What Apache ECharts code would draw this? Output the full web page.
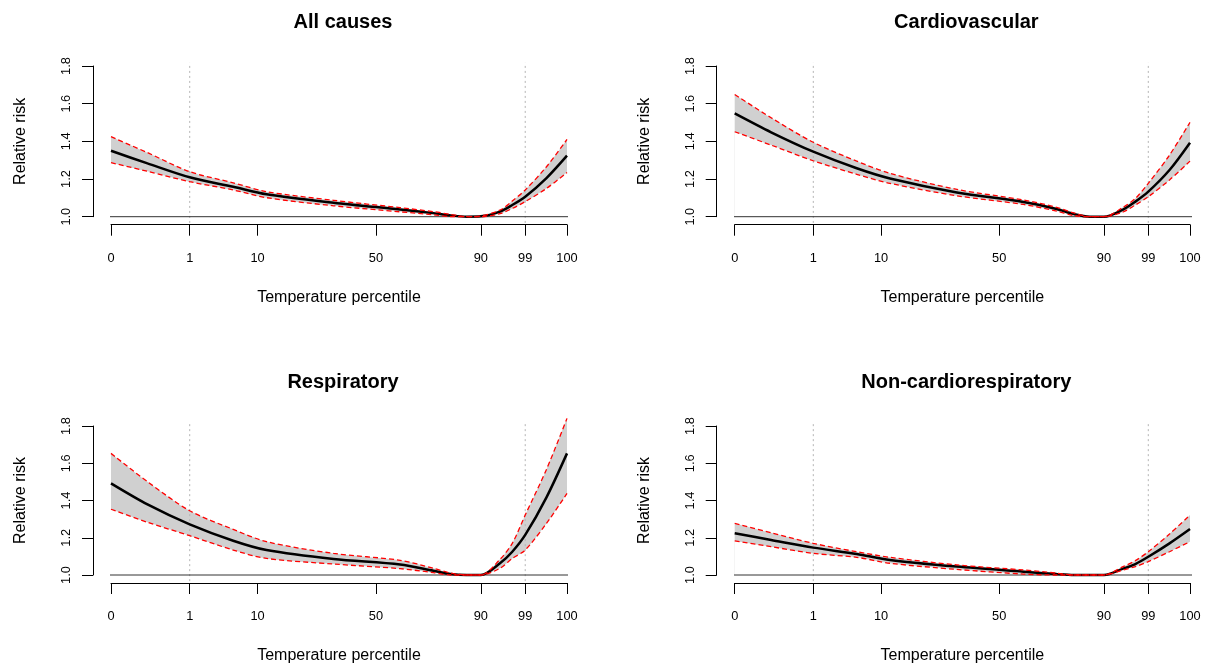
<!DOCTYPE html>
<html><head><meta charset="utf-8">
<script src="https://cdn.jsdelivr.net/npm/echarts@6/dist/echarts.min.js"></script>
<style>html,body{margin:0;padding:0;background:#fff}#c{width:1207px;height:671px}</style>
</head><body><div id="c"></div>
<script>
// ---- data ----
const panelTitles = ['All causes', 'Cardiovascular', 'Respiratory', 'Non-cardiorespiratory'];
// x positions on the temperature scale (0 = min, 100 = max temperature)
const xPos = [0, 8, 17.26, 26.8, 34.1, 48.8, 63.4, 70.7, 74.5, 78, 81.1, 85.3, 88, 90.84, 95.5, 100];
// percentile tick labels and their positions on the temperature scale
const pctLabels = ['0', '1', '10', '50', '90', '99', '100'];
const pctPos = [0, 17.26, 32.15, 58.1, 81.1, 90.84, 100];
const refLabels = ['1', '99'];

const allMean  = [1.350, 1.283, 1.209, 1.159, 1.119, 1.074, 1.038, 1.019, 1.007, 1.000, 1.002, 1.027, 1.062, 1.106, 1.205, 1.324];
const allUpper = [1.425, 1.340, 1.239, 1.180, 1.133, 1.087, 1.048, 1.027, 1.012, 1.000, 1.004, 1.035, 1.083, 1.142, 1.265, 1.410];
const allLower = [1.287, 1.241, 1.186, 1.142, 1.101, 1.058, 1.026, 1.010, 1.001, 1.000, 1.000, 1.016, 1.044, 1.080, 1.150, 1.235];

const cvdMean  = [1.548, 1.448, 1.345, 1.257, 1.203, 1.129, 1.078, 1.041, 1.014, 1.000, 1.000, 1.038, 1.080, 1.133, 1.248, 1.393];
const cvdUpper = [1.649, 1.525, 1.395, 1.295, 1.230, 1.145, 1.089, 1.050, 1.020, 1.000, 1.000, 1.050, 1.097, 1.177, 1.327, 1.501];
const cvdLower = [1.451, 1.380, 1.297, 1.225, 1.177, 1.111, 1.065, 1.030, 1.006, 1.000, 1.000, 1.025, 1.062, 1.106, 1.195, 1.295];

const resMean  = [1.492, 1.379, 1.272, 1.184, 1.134, 1.086, 1.056, 1.023, 1.005, 1.000, 1.000, 1.063, 1.125, 1.215, 1.417, 1.653];
const resUpper = [1.653, 1.501, 1.345, 1.245, 1.179, 1.116, 1.079, 1.036, 1.010, 1.000, 1.000, 1.084, 1.170, 1.322, 1.567, 1.841];
const resLower = [1.353, 1.283, 1.211, 1.134, 1.089, 1.059, 1.034, 1.013, 1.000, 1.000, 1.000, 1.036, 1.089, 1.134, 1.277, 1.438];

const ncrMean  = [1.224, 1.188, 1.147, 1.113, 1.081, 1.045, 1.018, 1.005, 1.000, 1.000, 1.000, 1.034, 1.059, 1.098, 1.170, 1.247];
const ncrUpper = [1.277, 1.227, 1.170, 1.125, 1.095, 1.054, 1.027, 1.010, 1.000, 1.000, 1.000, 1.045, 1.077, 1.125, 1.220, 1.322];
const ncrLower = [1.183, 1.152, 1.116, 1.095, 1.063, 1.030, 1.005, 1.000, 1.000, 1.000, 1.000, 1.027, 1.045, 1.072, 1.125, 1.179];

const yMin = 1.0, yMax = 1.8, yStep = 0.2;

// ---- layout / style ----
const panels = [
  {mean: allMean, upper: allUpper, lower: allLower, left: 111,   top: 66,  width: 456,   height: 150.7},
  {mean: cvdMean, upper: cvdUpper, lower: cvdLower, left: 734.7, top: 66,  width: 455.3, height: 150.7},
  {mean: resMean, upper: resUpper, lower: resLower, left: 111,   top: 426, width: 456,   height: 149},
  {mean: ncrMean, upper: ncrUpper, lower: ncrLower, left: 734.7, top: 426, width: 455.3, height: 149}
];
const FONT = 'Liberation Sans, Arial, sans-serif';
const SMOOTH = 0.3;
const regionX = [-3.95, 104.4];   // R plot region extent (x)
const regionY = [0.967, 1.817];   // R plot region extent (y)

const grids = [], xAxes = [], yAxes = [], series = [], titles = [];
const pair = (arr) => arr.map((v, i) => [xPos[i], v]);
const plainLine = (i, data, style, z) => ({
  type: 'line', xAxisIndex: i, yAxisIndex: i, data: data,
  showSymbol: false, clip: false, silent: true, lineStyle: style, z: z
});

panels.forEach((p, i) => {
  grids.push({left: p.left, top: p.top, width: p.width, height: p.height, containLabel: false});
  titles.push({
    text: panelTitles[i], left: p.left + p.width / 2 - 1, top: p.top - 59, textAlign: 'center',
    textStyle: {fontFamily: FONT, fontSize: 20, fontWeight: 'bold', color: '#000'}
  });
  xAxes.push({
    gridIndex: i, type: 'value', min: 0, max: 100, offset: 8,
    name: 'Temperature percentile', nameLocation: 'middle', nameGap: 65,
    nameTextStyle: {fontFamily: FONT, fontSize: 16, color: '#000'},
    axisLine: {show: true, onZero: false, lineStyle: {color: '#000', width: 1}},
    axisTick: {show: true, length: 11, customValues: pctPos, lineStyle: {color: '#000'}},
    axisLabel: {
      show: true, customValues: pctPos, margin: 27,
      fontFamily: FONT, fontSize: 12.8, color: '#000',
      formatter: (v) => { const k = pctPos.findIndex(q => Math.abs(q - v) < 1e-6); return k >= 0 ? pctLabels[k] : ''; }
    },
    splitLine: {show: false}
  });
  yAxes.push({
    gridIndex: i, type: 'value', min: yMin, max: yMax, interval: yStep, offset: 18,
    name: 'Relative risk', nameLocation: 'middle', nameGap: 64,
    nameTextStyle: {fontFamily: FONT, fontSize: 16, color: '#000'},
    axisLine: {show: true, onZero: false, lineStyle: {color: '#000', width: 1}},
    axisTick: {show: true, length: 11, lineStyle: {color: '#000'}},
    axisLabel: {
      show: true, rotate: 90, margin: 20, fontFamily: FONT, fontSize: 12.8, color: '#000',
      formatter: (v) => v.toFixed(1)
    },
    splitLine: {show: false}
  });
  // CI band: grey area down to RR=1 under the upper bound, masked in white under the lower bound
  series.push({
    type: 'line', xAxisIndex: i, yAxisIndex: i, data: pair(p.upper),
    showSymbol: false, smooth: SMOOTH, clip: false, silent: true,
    lineStyle: {opacity: 0}, areaStyle: {color: '#d0d0d0', opacity: 1, origin: yMin}, z: 1
  });
  series.push({
    type: 'line', xAxisIndex: i, yAxisIndex: i, data: pair(p.lower),
    showSymbol: false, smooth: SMOOTH, clip: false, silent: true,
    lineStyle: {opacity: 0}, areaStyle: {color: '#ffffff', opacity: 1, origin: yMin}, z: 1.5
  });
  // dotted reference lines at the 1st and 99th percentiles
  refLabels.forEach(lb => {
    const x = pctPos[pctLabels.indexOf(lb)];
    series.push(plainLine(i, [[x, regionY[0]], [x, regionY[1]]], {color: '#b4b4b4', type: [2, 3], width: 1}, 2));
  });
  // reference line at RR = 1 spanning the plot region
  series.push(plainLine(i, [[regionX[0], yMin], [regionX[1], yMin]], {color: '#333', width: 1}, 3));
  // mean curve
  series.push({
    type: 'line', xAxisIndex: i, yAxisIndex: i, data: pair(p.mean),
    showSymbol: false, smooth: SMOOTH, clip: false, silent: true,
    lineStyle: {color: '#000', width: 2.5}, z: 4
  });
  // CI bounds (red dashed)
  [p.lower, p.upper].forEach(arr => series.push({
    type: 'line', xAxisIndex: i, yAxisIndex: i, data: pair(arr),
    showSymbol: false, smooth: SMOOTH, clip: false, silent: true,
    lineStyle: {color: '#ff0000', width: 1.3, type: [5, 3]}, z: 5
  }));
});

const chart = echarts.init(document.getElementById('c'), null, {renderer: 'canvas'});
chart.setOption({
  animation: false,
  backgroundColor: '#fff',
  title: titles,
  grid: grids,
  xAxis: xAxes,
  yAxis: yAxes,
  series: series
});
</script>
</body></html>
